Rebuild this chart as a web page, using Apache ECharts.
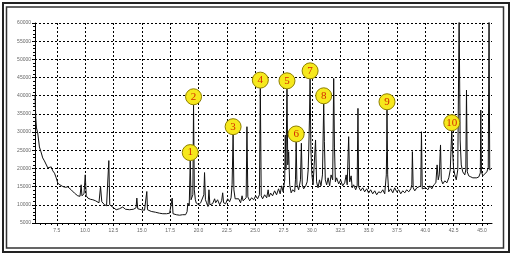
<!DOCTYPE html>
<html><head><meta charset="utf-8">
<script src="https://cdn.jsdelivr.net/npm/echarts@6/dist/echarts.min.js"></script>
<style>html,body{margin:0;padding:0;background:#fff}#c{width:513px;height:259px}</style>
</head><body><div id="c"></div>
<script>
// x-axis tick labels (retention time, min)
const xTicks = [7.5, 10, 12.5, 15, 17.5, 20, 22.5, 25, 27.5, 30, 32.5, 35, 37.5, 40, 42.5, 45];
// retention time (min)
const time = [
5.58,5.65,5.71,5.82,5.97,6.11,6.26,6.41,6.56,6.71,6.86,7.01,7.15,7.30,7.45,7.59,7.78,8.03,8.27,8.47,
8.77,9.06,9.35,9.55,9.65,9.72,9.90,10.01,10.10,10.24,10.47,10.68,10.92,11.22,11.36,11.47,11.71,11.89,12.03,12.09,
12.17,12.30,12.50,12.74,13.03,13.32,13.56,13.92,14.27,14.49,14.56,14.64,14.95,15.24,15.38,15.44,15.50,15.83,16.21,16.56,
16.85,17.18,17.45,17.61,17.68,17.75,18.04,18.33,18.59,18.86,18.99,19.06,19.18,19.27,19.34,19.43,19.50,19.56,19.63,19.72,
19.80,20.01,20.19,20.36,20.47,20.53,20.61,20.71,20.83,20.92,21.00,21.24,21.42,21.51,21.68,21.86,22.04,22.13,22.21,22.39,
22.57,22.74,22.87,22.96,23.05,23.12,23.23,23.36,23.54,23.71,23.84,23.93,24.07,24.20,24.27,24.35,24.51,24.68,24.86,25.04,
25.21,25.37,25.45,25.53,25.65,25.83,26.01,26.14,26.22,26.36,26.53,26.71,26.88,27.06,27.20,27.33,27.46,27.60,27.65,27.71,
27.80,27.87,27.95,28.04,28.17,28.30,28.48,28.55,28.61,28.68,28.83,28.99,29.07,29.15,29.27,29.45,29.58,29.67,29.72,29.78,
29.84,29.91,30.00,30.10,30.25,30.32,30.41,30.54,30.67,30.80,30.93,31.04,31.10,31.18,31.30,31.43,31.56,31.69,31.83,31.92,
31.99,32.07,32.18,32.36,32.53,32.71,32.89,33.02,33.11,33.24,33.33,33.46,33.55,33.68,33.86,33.99,34.06,34.12,34.30,34.48,
34.65,34.83,35.00,35.18,35.36,35.54,35.71,35.89,36.07,36.25,36.42,36.56,36.59,36.62,36.68,36.77,36.95,37.13,37.30,37.48,
37.66,37.83,38.01,38.19,38.36,38.54,38.72,38.81,38.86,38.93,39.07,39.25,39.42,39.60,39.66,39.73,39.87,40.04,40.22,40.40,
40.57,40.75,40.93,41.04,41.14,41.23,41.34,41.41,41.54,41.72,41.90,42.07,42.20,42.33,42.40,42.49,42.60,42.73,42.86,42.98,
43.07,43.17,43.30,43.48,43.57,43.63,43.70,43.83,44.01,44.19,44.36,44.54,44.72,44.85,44.89,44.95,45.07,45.24,45.42,45.55,
45.62,45.68,45.81
];
// detector signal (abundance)
const signal = [
40170,33860,31120,29750,25910,24540,22900,22080,21800,20160,20700,20430,19340,18700,17420,15960,15500,15030,14810,14950,
14130,13220,12480,12350,15500,12480,13030,18240,12480,11850,11520,11390,11110,10560,15030,10840,10020,9740,10020,22160,
10020,9550,9190,8650,8920,9390,8780,8650,8780,9190,11850,8920,8650,8510,8920,13660,8650,8180,7960,7690,
7550,7550,7690,7820,11850,7550,7280,7140,7280,7280,8100,10480,9740,22160,11390,10840,12760,37510,14130,11390,
10480,10020,10560,10290,12760,18870,11390,10560,9550,14130,10020,10290,11660,10560,11390,10020,11110,13300,10560,10290,
11660,10840,11930,15500,29290,14130,11660,11110,11660,10560,12480,11110,11390,11930,31480,12210,11110,11930,11390,12480,
11660,12760,42090,12480,11660,12760,11930,14130,12210,13220,12480,13850,12760,14400,13030,15220,13580,16870,29200,19610,
41900,20980,24630,15500,13300,14130,13580,16870,27280,15500,14130,16870,26930,15500,14400,15220,16320,19610,25090,33310,
44640,25090,18230,15500,16000,27830,16320,14680,16870,15220,18230,37780,27370,16870,15500,17420,15220,18230,16870,44740,
25640,16320,17420,15760,16870,15220,16040,18230,15500,28740,16320,17960,14680,15500,14130,15220,36520,14950,13850,14680,
13580,14400,13220,14130,13030,13850,12760,13580,13300,14130,13030,18230,24630,36140,18230,13580,14400,13300,14680,13580,
14130,13030,13850,13300,14130,13580,14400,15500,24630,14680,13850,14680,14130,15220,30110,14400,13850,14680,14130,15220,
14400,15500,16050,20980,16870,18230,26460,16870,15760,16600,16050,17420,19610,30380,25090,20160,18230,16870,19610,62100,
27830,20980,19060,18230,19610,41540,19060,17960,17690,17420,17690,17420,17690,18780,36060,19060,17960,18230,19060,20160,
62100,19610,19880
];
// numbered peak annotations
const peakLabels = ['1','2','3','4','5','6','7','8','9','10'];
const peakTimes  = [19.27, 19.56, 23.05, 25.45, 27.80, 28.61, 29.84, 31.04, 36.62, 42.33];
const peakValues = [22160, 37510, 29290, 42090, 41900, 27280, 44640, 37780, 36140, 30380];

const xMin = 5.58, xMax = 45.88;
const xMinor = [];
for (let i = 0; i < xTicks.length; i++) {
  for (let k = -4; k <= 4; k++) {
    const v = +(xTicks[i] + k * 0.5).toFixed(2);
    if (v > xMin && v < xMax && xMinor.indexOf(v) < 0) xMinor.push(v);
  }
}

const chart = echarts.init(document.getElementById('c'), null, {renderer: 'canvas'});
const fontFam = 'Liberation Sans, Arial, sans-serif';
chart.setOption({
  animation: false,
  backgroundColor: '#fff',
  grid: {left: 35, right: 21, top: 23, bottom: 36},
  xAxis: [{
    type: 'value', min: xMin, max: xMax,
    axisLine: {show: true, lineStyle: {color: '#000', width: 1}},
    axisTick: {show: true, customValues: xTicks, length: 3, lineStyle: {color: '#000'}},
    axisLabel: {customValues: xTicks, formatter: v => v.toFixed(1), fontSize: 5, color: '#666', margin: 5, fontFamily: fontFam},
    splitLine: {show: true, lineStyle: {color: '#000', type: [2, 2], width: 1}}
  }, {
    type: 'value', min: xMin, max: xMax, position: 'bottom',
    axisLine: {show: false},
    axisTick: {show: true, customValues: xMinor, length: 2, lineStyle: {color: '#000'}},
    axisLabel: {show: false},
    splitLine: {show: false}
  }],
  yAxis: {
    type: 'value', min: 5000, max: 60000, interval: 5000,
    axisLine: {show: true, lineStyle: {color: '#000', width: 1}},
    axisTick: {show: true, length: 3, lineStyle: {color: '#000'}},
    minorTick: {show: true, splitNumber: 5, length: 2, lineStyle: {color: '#000'}},
    axisLabel: {fontSize: 5, color: '#666', margin: 4, fontFamily: fontFam, formatter: v => String(v)},
    splitLine: {show: true, lineStyle: {color: '#000', type: [2, 2], width: 1}}
  },
  series: [{
    type: 'line',
    data: time.map((t, i) => [t, signal[i]]),
    showSymbol: false,
    lineStyle: {color: '#111', width: 1},
    clip: true,
    z: 2
  }, {
    type: 'scatter',
    data: peakTimes.map((t, i) => [t, peakValues[i]]),
    symbol: 'circle',
    symbolSize: 16,
    symbolOffset: [0, -8],
    clip: false,
    itemStyle: {color: '#f6e81c', borderColor: '#8f8000', borderWidth: 1, opacity: 1},
    label: {
      show: true, position: 'inside',
      formatter: p => peakLabels[p.dataIndex],
      color: '#d42a00', fontSize: 11, fontFamily: 'Liberation Serif, Times New Roman, serif'
    },
    z: 5
  }],
  graphic: [
    {type: 'rect', shape: {x: 3, y: 3, width: 506, height: 249}, style: {fill: 'none', stroke: '#222', lineWidth: 2}, silent: true},
    {type: 'rect', shape: {x: 6.5, y: 7, width: 497, height: 241}, style: {fill: 'none', stroke: '#333', lineWidth: 1.5}, silent: true}
  ]
});
</script></body></html>
